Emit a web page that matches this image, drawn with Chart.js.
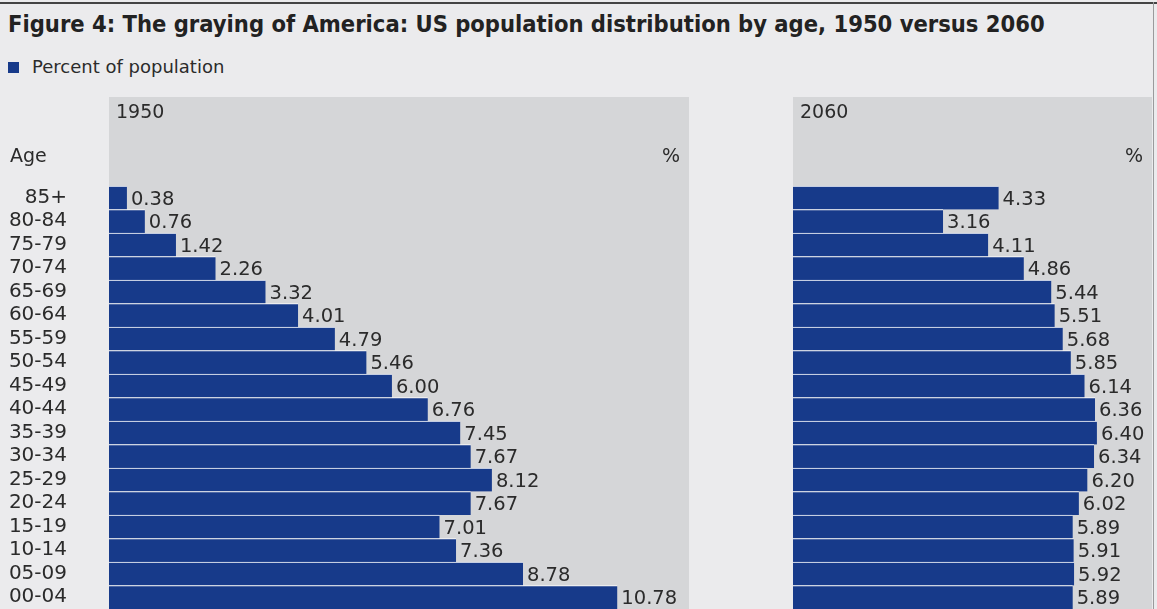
<!DOCTYPE html>
<html>
<head>
<meta charset="utf-8">
<script src="https://cdn.jsdelivr.net/npm/chart.js@4"></script>
<style>
  body { margin: 0; background: #ebebed; font-family: "DejaVu Sans", sans-serif; color: #2b2b2b; }
  #wrap { position: relative; width: 1157px; height: 609px; overflow: hidden; }
  .topline { position: absolute; left: 0; top: 2px; width: 1157px; height: 2px; background: #444; }
  .rightline { position: absolute; left: 1153px; top: 2px; width: 1px; height: 607px; background: #9a9a9c; }
  .title { position: absolute; left: 8px; top: 10px; font-family: "DejaVu Sans Condensed", "DejaVu Sans", sans-serif; font-weight: bold; font-size: 23.5px; color: #222; white-space: nowrap; }
  .legend { position: absolute; left: 8px; top: 56px; font-size: 18px; white-space: nowrap; }
  .legend span { display: inline-block; width: 11px; height: 11px; background: #173a8a; margin-right: 13px; }
  .lbl { position: absolute; font-size: 19px; white-space: nowrap; }
  canvas { position: absolute; }
</style>
</head>
<body>
<div id="wrap">
  <div class="topline"></div>
  <div class="rightline"></div>
  <div class="title">Figure 4: The graying of America: US population distribution by age, 1950 versus 2060</div>
  <div class="legend"><span></span>Percent of population</div>
  <canvas id="chart1950" style="left:0;top:97px;"></canvas>
  <canvas id="chart2060" style="left:689px;top:97px;"></canvas>
  <div class="lbl" style="left:116px;top:100px;">1950</div>
  <div class="lbl" style="left:800px;top:100px;">2060</div>
  <div class="lbl" style="left:10px;top:144px;">Age</div>
  <div class="lbl" style="left:662px;top:144px;">%</div>
  <div class="lbl" style="left:1125px;top:144px;">%</div>
</div>
<script>
// ----------------- DATA -----------------
var ageGroups = ["85+", "80-84", "75-79", "70-74", "65-69", "60-64", "55-59", "50-54", "45-49",
                 "40-44", "35-39", "30-34", "25-29", "20-24", "15-19", "10-14", "05-09", "00-04"];
var pct1950 = [0.38, 0.76, 1.42, 2.26, 3.32, 4.01, 4.79, 5.46, 6.00,
               6.76, 7.45, 7.67, 8.12, 7.67, 7.01, 7.36, 8.78, 10.78];
var pct2060 = [4.33, 3.16, 4.11, 4.86, 5.44, 5.51, 5.68, 5.85, 6.14,
               6.36, 6.40, 6.34, 6.20, 6.02, 5.89, 5.91, 5.92, 5.89];

var BAR_COLOR = '#173a8a';
var PANEL_COLOR = '#d5d6d8';
var TEXT_COLOR = '#2b2b2b';

// ----------------- PLUGINS -----------------
// gray panel behind the bars, running up to the top of the canvas
var panelPlugin = {
    id: 'panel',
    beforeDraw: function(chart) {
        var ctx = chart.ctx, a = chart.chartArea;
        ctx.save();
        ctx.fillStyle = PANEL_COLOR;
        ctx.fillRect(a.left, 0, a.right - a.left, chart.height);
        ctx.restore();
    }
};

// value printed just after the end of each bar
var valuePlugin = {
    id: 'values',
    afterDatasetsDraw: function(chart) {
        var ctx = chart.ctx;
        var meta = chart.getDatasetMeta(0);
        var data = chart.data.datasets[0].data;
        ctx.save();
        ctx.font = '19.5px "DejaVu Sans"';
        ctx.fillStyle = TEXT_COLOR;
        ctx.textAlign = 'left';
        ctx.textBaseline = 'middle';
        for (var i = 0; i < meta.data.length; i++) {
            var bar = meta.data[i];
            ctx.fillText(data[i].toFixed(2), bar.x + 4, bar.y + 2);
        }
        ctx.restore();
    }
};

function drawChart(id, values, width, axisWidth, xMax, showLabels) {
    var c = document.getElementById(id);
    c.width = width;
    c.height = 512;
    c.style.width = width + 'px';
    c.style.height = '512px';
    return new Chart(c, {
        type: 'bar',
        data: {
            labels: ageGroups,
            datasets: [{
                data: values,
                backgroundColor: BAR_COLOR,
                borderColor: '#ffffff',
                borderWidth: {top: 1, right: 0, bottom: 0, left: 0},
                borderSkipped: false,
                categoryPercentage: 1,
                barPercentage: 1
            }]
        },
        options: {
            indexAxis: 'y',
            responsive: false,
            animation: false,
            events: [],
            layout: {padding: {top: 89, left: 0, right: 0, bottom: 0}},
            plugins: {legend: {display: false}, tooltip: {enabled: false}},
            scales: {
                x: {display: false, min: 0, max: xMax},
                y: {
                    display: showLabels,
                    grid: {display: false},
                    border: {display: false},
                    ticks: {
                        color: TEXT_COLOR,
                        padding: 34,
                        autoSkip: false,
                        font: {family: '"DejaVu Sans"', size: 20}
                    },
                    afterFit: function(scale) {
                        scale.width = axisWidth;
                        scale.paddingTop = 0;
                        scale.paddingBottom = 0;
                    }
                }
            }
        },
        plugins: [panelPlugin, valuePlugin]
    });
}

drawChart('chart1950', pct1950, 689, 109, 12.3, true);
drawChart('chart2060', pct2060, 463, 104, 7.56, false);
</script>
</body>
</html>
